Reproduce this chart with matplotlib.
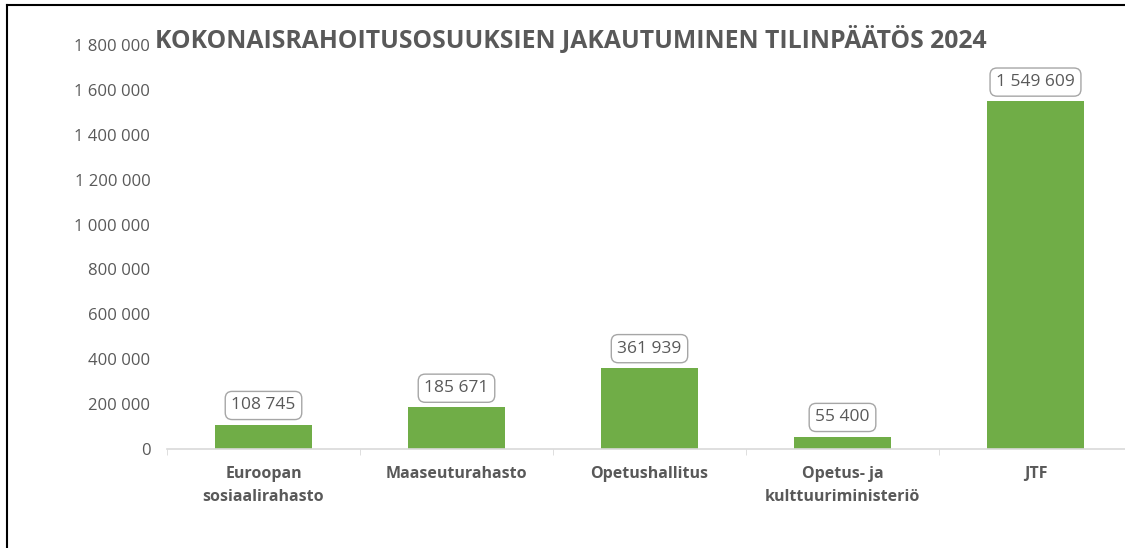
import matplotlib.pyplot as plt
from matplotlib.ticker import FuncFormatter

categories = ["Euroopan\nsosiaalirahasto", "Maaseuturahasto", "Opetushallitus",
              "Opetus- ja\nkulttuuriministeriö", "JTF"]
values = [108745, 185671, 361939, 55400, 1549609]
title = "KOKONAISRAHOITUSOSUUKSIEN JAKAUTUMINEN TILINPÄÄTÖS 2024"

GREEN = "#70AD47"
GREY = "#595959"
plt.rcParams["font.family"] = ["Open Sans", "DejaVu Sans"]


def fmt(v, pos=None):
    return f"{int(v):,}".replace(",", " ")


fig = plt.figure(figsize=(11.25, 5.48), dpi=100)
ax = fig.add_axes([167 / 1125, 1 - 449 / 548, 965 / 1125, (449 - 45) / 548])

x = range(len(categories))
ax.bar(x, values, width=0.5, color=GREEN, zorder=2)
ax.set_xlim(-0.5, len(categories) - 0.5)
ax.set_ylim(0, 1800000)
ax.set_yticks(range(0, 1800001, 200000))
ax.yaxis.set_major_formatter(FuncFormatter(fmt))

ax.set_xticks(list(x))
ax.set_xticklabels(categories, fontsize=11.5, fontweight="bold", color=GREY,
                   linespacing=1.6, va="top")
ax.set_xticks([i - 0.5 for i in range(len(categories) + 1)], minor=True)
ax.tick_params(axis="x", which="major", length=0, pad=12)
ax.tick_params(axis="x", which="minor", length=4, color="#D9D9D9")
ax.tick_params(axis="y", length=0, pad=12, labelsize=12, labelcolor=GREY)

for s in ["top", "right", "left"]:
    ax.spines[s].set_visible(False)
ax.spines["bottom"].set_color("#D9D9D9")
ax.spines["bottom"].set_linewidth(1.2)

for i, v in enumerate(values):
    ax.annotate(fmt(v), (i, v), xytext=(0, 8), textcoords="offset points",
                ha="center", va="bottom", fontsize=12.5, color=GREY,
                bbox=dict(boxstyle="round,pad=0.35,rounding_size=0.4",
                          fc="white", ec="#A6A6A6", lw=1))

fig.text(571 / 1125, 1 - 40 / 548, title, ha="center", va="center",
         fontsize=17.8, fontweight="bold", color=GREY)

# outer frame (top and left edges only visible)
fig.add_artist(plt.Line2D([7 / 1125, 7 / 1125], [0, 1 - 5 / 548], color="black", lw=1.5))
fig.add_artist(plt.Line2D([7 / 1125, 1], [1 - 5 / 548, 1 - 5 / 548], color="black", lw=1.5))

fig.savefig("out.png", dpi=100)
